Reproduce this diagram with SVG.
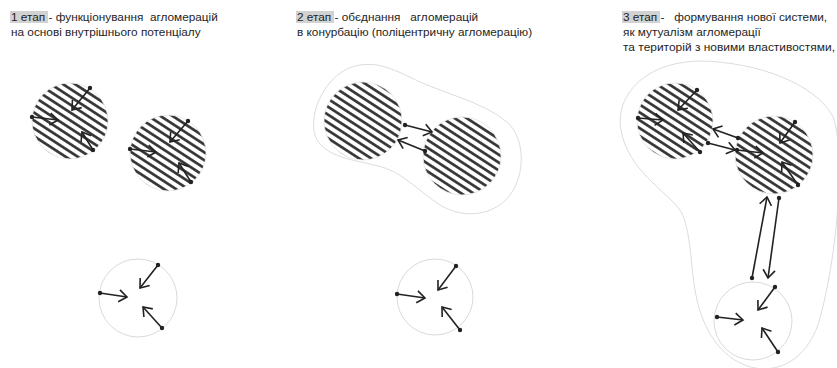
<svg xmlns="http://www.w3.org/2000/svg" width="837" height="368" viewBox="0 0 837 368">
<style>
text{font-family:"Liberation Sans",Arial,sans-serif;font-size:11.8px;fill:#1e1e1e;}
.hl{fill:#d2d2d2;}
.outline{fill:none;stroke:#dcdcdc;stroke-width:1;}
.hatched{fill:url(#hatch);stroke:#e4e4e4;stroke-width:0.8;}
.plain{fill:none;stroke:#dadada;stroke-width:1;}
.arr{fill:none;stroke:#222;stroke-width:1.6;marker-start:url(#dot);marker-end:url(#head);}
</style>
<defs>
<pattern id="hatch" width="6.6" height="6.6" patternUnits="userSpaceOnUse" patternTransform="rotate(33)">
<rect width="6.6" height="6.6" fill="#fff"/>
<rect x="0" y="2" width="6.6" height="2.6" fill="#2e2e2e"/>
</pattern>
<marker id="head" markerWidth="14" markerHeight="14" refX="0" refY="0" viewBox="-10 -7 12 14" markerUnits="userSpaceOnUse" orient="auto">
<path d="M-8,-6 L0,0 L-8,6" fill="none" stroke="#222" stroke-width="1.6"/>
</marker>
<marker id="dot" markerWidth="6" markerHeight="6" refX="0" refY="0" viewBox="-3 -3 6 6" markerUnits="userSpaceOnUse">
<circle r="2.2" fill="#222"/>
</marker>
</defs>
<rect width="837" height="368" fill="#fff"/>

<g id="titles">
<rect class="hl" x="10" y="11" width="38" height="12"/>
<text x="11" y="21" xml:space="preserve">1 етап - функціонування  агломерацій</text>
<text x="11" y="36">на основі внутрішнього потенціалу</text>
<rect class="hl" x="296" y="11" width="38" height="12"/>
<text x="297" y="21" xml:space="preserve">2 етап - обєднання   агломерацій</text>
<text x="297" y="36">в конурбацію (поліцентричну агломерацію)</text>
<rect class="hl" x="622" y="11" width="38" height="12"/>
<text x="623" y="21" xml:space="preserve">3 етап -   формування нової системи,</text>
<text x="623" y="36">як мутуалізм агломерації</text>
<text x="623" y="51" textLength="212" lengthAdjust="spacingAndGlyphs">та територій з новими властивостями,</text>
</g>

<g id="boundaries">
<path id="blob2" class="outline" d="M 360,65 C 380,62 395,70 420,82 C 450,95 490,105 510,125 C 525,142 525,175 510,195 C 495,215 465,220 440,205 C 420,192 405,175 385,168 C 360,160 330,160 317,140 C 305,118 325,70 360,65 Z"/>
<path id="blob3" class="outline" d="M 700,61 C 760,62 815,85 832,115 C 845,140 840,250 818,325 C 805,360 780,372 755,368 C 725,362 705,335 697,300 C 690,270 692,230 680,210 C 665,190 628,170 621,130 C 615,95 645,62 700,61 Z"/>
</g>

<g id="s1-agg-a"><circle class="hatched" cx="70" cy="121" r="38"/></g>
<g id="s1-agg-b"><circle class="hatched" cx="168" cy="153" r="38"/></g>
<g id="s1-terr"><circle class="plain" cx="138" cy="298" r="39"/></g>
<g id="s2-agg-a"><circle class="hatched" cx="363" cy="121" r="39"/></g>
<g id="s2-agg-b"><circle class="hatched" cx="462" cy="156" r="39"/></g>
<g id="s2-terr"><circle class="plain" cx="435" cy="297" r="38"/></g>
<g id="s3-agg-a"><circle class="hatched" cx="675" cy="121" r="38"/></g>
<g id="s3-agg-b"><circle class="hatched" cx="774" cy="155" r="39"/></g>
<g id="s3-terr"><circle class="plain" cx="753" cy="321" r="39"/></g>

<g id="connectors">
<path class="arr" d="M32,117 L58,120"/>
<path class="arr" d="M90,88 L72,110"/>
<path class="arr" d="M93,150 L82,132"/>

<path class="arr" d="M130,149 L156,152"/>
<path class="arr" d="M188,121 L170,142"/>
<path class="arr" d="M191,182 L179,163"/>

<path class="arr" d="M100,293 L127,297"/>
<path class="arr" d="M158,265 L140,288"/>
<path class="arr" d="M162,328 L143,307"/>

<path class="arr" d="M405,125 L432,132"/>
<path class="arr" d="M425,151 L398,140"/>

<path class="arr" d="M397,294 L425,298"/>
<path class="arr" d="M456,266 L438,290"/>
<path class="arr" d="M460,330 L442,307"/>

<path class="arr" d="M638,118 L663,120"/>
<path class="arr" d="M697,90 L678,110"/>
<path class="arr" d="M700,152 L683,133"/>

<path class="arr" d="M738,138 L713,129"/>
<path class="arr" d="M708,143 L735,150"/>
<path class="arr" d="M737,150 L763,153"/>
<path class="arr" d="M795,122 L780,143"/>
<path class="arr" d="M798,185 L782,162"/>

<path class="arr" d="M752,278 L767,197"/>
<path class="arr" d="M779,198 L768,278"/>

<path class="arr" d="M717,317 L743,320"/>
<path class="arr" d="M775,287 L758,310"/>
<path class="arr" d="M778,352 L762,328"/>
</g>
</svg>
